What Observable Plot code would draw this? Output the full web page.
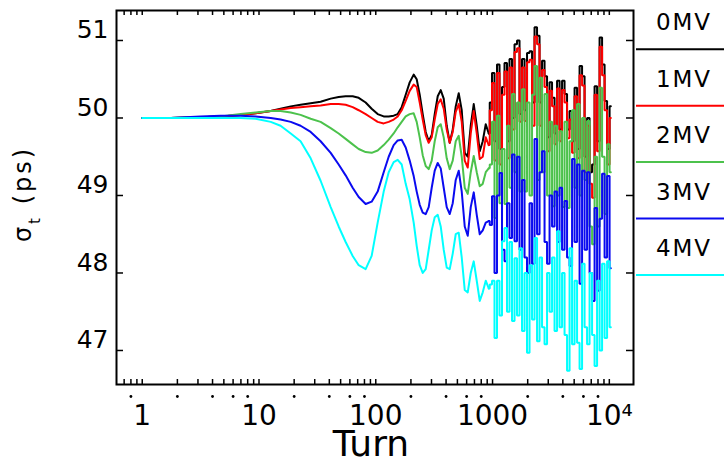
<!DOCTYPE html>
<html><head><meta charset="utf-8">
<script src="https://cdn.jsdelivr.net/npm/d3@7"></script>
<script src="https://cdn.jsdelivr.net/npm/@observablehq/plot@0.6"></script>
<style>
  html, body { margin: 0; padding: 0; background: #fff; }
  #chart { width: 724px; height: 466px; }
</style>
</head><body><div id="chart"></div>
<script>
// ---------- data ----------
const seriesNames = ["0MV", "1MV", "2MV", "3MV", "4MV"];
const seriesColors = ["#000000", "#ff0000", "#4cc24c", "#0a0af0", "#00ffff"];

const turns = [1,1.75,3.16,4.69,6.96,9.35,12.6,15.3,18.7,22.7,27.7,33.7,41.1,48.1,55.2,63.4,71.4,81.9,92.2,103.8,
  116.9,129,142.3,154.1,166.7,180.4,195.2,211.2,224.1,237.8,252.3,267.7,284,301.3,319.7,339.2,359.9,381.8,405.1,429.8,
  456,483.8,513.3,544.6,577.8,613.1,650.5,690.1,732.2,776.9,824.2,874.5,927.8,
  965,1014,1065,1119,1176,1235,1298,1363,1432,1505,1581,1661,1745,1833,1926,2023,2126,2233,2346,2465,
  2589,2720,2858,3002,3154,3313,3481,3657,3842,4036,4240,4455,4680,4917,5165,5427,5701,5989,6292,6610,
  6944,7296,7664,8052,8459,8887,9336,9808,10304];
// turn from which the oscillation becomes turn-by-turn noisy
const noisyFromTurn = 927.8;

const sigma0MV = [50.0,50.0,50.01,50.02,50.04,50.06,50.09,50.12,50.15,50.17,50.19,50.21,50.25,50.27,50.28,
  50.28,50.26,50.2,50.12,50.05,50.02,50.02,50.03,50.05,50.14,50.3,50.46,50.56,50.5,50.3,
  50.05,49.82,49.7,49.78,50.05,50.28,50.36,50.25,49.9,49.68,49.85,50.15,50.32,50.1,49.55,
  49.5,49.9,50.18,49.9,49.57,49.7,49.92,49.8,
  50.2,50.58,49.7,50.69,49.6,50.4,50.71,49.7,50.76,50.0,50.95,51.0,50.05,50.76,50.1,
  50.84,50.86,50.2,51.17,51.06,50.2,50.74,50.54,49.75,50.46,50.26,49.8,50.48,49.85,50.48,
  50.31,49.85,50.09,49.7,50.39,49.6,50.67,50.54,49.5,50.0,49.3,49.4,50.41,49.7,51.04,
  50.69,50.22,49.6,50.15];

const sigma1MV = [50.0,50.0,50.01,50.02,50.04,50.06,50.09,50.11,50.13,50.14,50.15,50.16,50.18,50.18,50.17,
  50.14,50.1,50.05,50.0,49.95,49.93,49.95,49.98,50.02,50.1,50.22,50.35,50.43,50.4,50.2,
  49.98,49.78,49.68,49.75,49.98,50.18,50.24,50.12,49.85,49.68,49.82,50.08,50.18,49.95,49.45,
  49.36,49.8,50.09,49.8,49.47,49.5,49.75,49.65,
  50.1,50.45,49.45,50.58,49.4,50.3,50.6,49.48,50.65,49.85,50.85,50.9,49.95,50.65,49.96,
  50.72,50.75,49.9,51.05,50.95,49.9,50.62,50.4,49.57,50.35,50.15,49.66,50.38,49.7,50.36,
  50.2,49.74,49.98,49.55,50.28,49.48,50.55,50.42,49.3,49.9,49.15,48.97,50.3,49.57,50.92,
  50.55,50.1,49.4,50.0];

const sigma2MV = [50.0,50.0,50.01,50.02,50.05,50.07,50.09,50.09,50.07,50.04,49.99,49.95,49.87,49.8,49.73,
  49.66,49.6,49.56,49.55,49.58,49.65,49.72,49.8,49.88,49.95,50.02,50.05,50.06,49.95,49.75,
  49.52,49.38,49.34,49.45,49.7,49.88,49.92,49.75,49.48,49.34,49.45,49.7,49.77,49.5,49.1,
  49.02,49.3,49.51,49.3,49.12,49.15,49.3,49.35,
  49.4,49.95,48.71,50.03,48.9,49.6,48.89,49.9,49.1,50.31,49.3,50.2,49.05,50.37,49.05,
  50.2,49.0,50.3,50.67,49.2,50.52,49.3,50.31,49.0,49.95,48.86,49.9,49.0,49.83,48.85,
  49.95,48.84,49.7,50.1,49.1,50.18,49.0,50.0,49.2,49.96,48.6,48.37,49.5,48.6,50.39,
  49.5,48.76,49.66,49.3];

const sigma3MV = [50.0,50.0,50.02,50.03,50.03,50.02,50.0,49.98,49.95,49.9,49.82,49.7,49.55,49.4,49.26,
  49.1,48.98,48.89,48.92,49.05,49.3,49.5,49.65,49.71,49.72,49.62,49.45,49.25,49.05,48.88,
  48.78,48.76,48.85,49.1,49.32,49.42,49.35,49.1,48.85,48.76,48.9,49.2,49.32,49.05,48.6,
  48.48,48.85,49.04,48.75,48.5,48.55,48.65,48.67,
  48.62,48.99,48.0,49.0,49.29,48.3,48.15,48.9,48.45,49.53,48.41,49.5,48.3,49.2,48.2,
  48.0,48.9,48.12,49.73,48.5,49.3,49.57,48.4,48.12,49.0,48.6,49.05,48.4,49.1,48.3,
  48.93,48.2,48.09,49.47,48.4,49.4,47.86,49.32,48.3,49.3,48.0,47.64,48.84,47.77,48.7,
  49.28,48.2,49.25,48.06];

const sigma4MV = [50.0,50.0,50.0,50.0,50.0,49.99,49.95,49.9,49.8,49.7,49.48,49.19,48.85,48.6,48.4,
  48.22,48.1,48.05,48.22,48.65,49.05,49.3,49.43,49.46,49.4,49.15,48.95,48.65,48.35,48.1,
  48.0,48.05,48.3,48.55,48.72,48.75,48.6,48.3,48.07,48.05,48.25,48.5,48.52,48.2,47.78,
  47.75,48.0,48.15,47.9,47.64,47.75,47.9,47.8,
  47.85,47.9,47.16,47.9,47.45,48.41,48.58,47.5,48.4,47.38,48.19,47.45,48.32,47.25,48.0,
  46.97,48.1,47.4,48.45,47.12,48.2,47.3,47.08,48.0,47.5,48.2,47.25,48.54,47.3,48.0,
  47.2,46.74,48.32,47.08,47.9,47.1,46.76,48.12,47.3,47.08,48.0,47.2,46.8,47.9,47.0,
  48.12,47.16,48.15,47.3];

const yTicks = [47, 48, 49, 50, 51];
const xTicks = [0.7,0.8,0.9,1,2,3,4,5,6,7,8,9,10,20,30,40,50,60,70,80,90,
  100,200,300,400,500,600,700,800,900,1000,2000,3000,4000,5000,6000,7000,8000,9000,10000];
const xLabelTurns = [1, 10, 100, 1000, 10000];
const xLabelTexts = ["1", "10", "100", "1000", "10\u2074"];
const xMinorLabelTurns = [0.8,2,4,6,8,20,40,60,80,200,400,600,800,2000,4000,6000,8000];

// ---------- build ----------
const seriesValues = [sigma0MV, sigma1MV, sigma2MV, sigma3MV, sigma4MV];
const rows = seriesNames.flatMap((name, i) =>
  turns.map((t, j) => ({turn: t, sigma: seriesValues[i][j], series: name})));
const smoothRows = rows.filter(r => r.turn <= noisyFromTurn);
const noisyRows = rows.filter(r => r.turn >= noisyFromTurn);

const W = 724, H = 466;
const mL = 116, mR = 91, mT = 10, mB = 82;
const plotW = W - mL - mR, plotH = H - mT - mB;

const lineOpts = {x: "turn", y: "sigma", z: "series", stroke: "series", strokeWidth: 2};

const svg = Plot.plot({
  width: W, height: H,
  marginLeft: mL, marginRight: mR, marginTop: mT, marginBottom: mB,
  style: {fontFamily: "DejaVu Sans", background: "#ffffff", color: "#000000", fontSize: "25px"},
  x: {type: "log", domain: [0.602, 16110], axis: null},
  y: {domain: [46.561, 51.387], axis: null},
  color: {domain: seriesNames, range: seriesColors},
  marks: [
    Plot.line(smoothRows, {...lineOpts, curve: "linear"}),
    Plot.line(noisyRows, {...lineOpts, curve: "step", strokeLinejoin: "miter"}),
    Plot.frame({stroke: "#000", strokeWidth: 2}),
    // y ticks, left and right, pointing inward
    Plot.tickY(yTicks, {y: d => d, insetRight: plotW - 7, stroke: "#000", strokeWidth: 1.5}),
    Plot.tickY(yTicks, {y: d => d, insetLeft: plotW - 7, stroke: "#000", strokeWidth: 1.5}),
    // x ticks, bottom and top, pointing inward
    Plot.tickX(xTicks, {x: d => d, insetTop: plotH - 5, stroke: "#000", strokeWidth: 1.5}),
    Plot.tickX(xTicks, {x: d => d, insetBottom: plotH - 5, stroke: "#000", strokeWidth: 1.5}),
    // y tick labels
    Plot.text(yTicks, {y: d => d, text: d => String(d), frameAnchor: "left", textAnchor: "end",
      dx: -8, dy: -10, fontSize: 25}),
    // x tick labels
    Plot.text(xLabelTurns, {x: d => d, text: (d, i) => xLabelTexts[i], frameAnchor: "bottom",
      dy: 40, fontSize: 28}),
    // tiny minor labels under the ticks
    Plot.dot(xMinorLabelTurns, {x: d => d, frameAnchor: "bottom", dy: 12, r: 1.4, fill: "#000", stroke: null}),
    // x axis title
    Plot.text(["Turn"], {text: d => d, frameAnchor: "bottom", dx: -4, dy: 71, fontSize: 36})
  ]
});

document.getElementById("chart").appendChild(svg);

// y axis title with subscript
const root = d3.select(svg);
const yt = root.append("text")
  .attr("transform", "translate(31,194) rotate(-90)")
  .attr("text-anchor", "middle")
  .attr("font-family", "DejaVu Sans")
  .attr("font-size", 24)
  .attr("letter-spacing", 3)
  .attr("fill", "#000");
yt.append("tspan").text("\u03C3");
yt.append("tspan").attr("font-size", 15).attr("baseline-shift", "sub").text("t");
yt.append("tspan").text(" (ps)");

// legend at the right
const lg = root.append("g");
seriesNames.forEach((name, i) => {
  const ly = 49.3 + 56.4 * i;
  lg.append("line").attr("x1", 636).attr("x2", 724).attr("y1", ly).attr("y2", ly)
    .attr("stroke", seriesColors[i]).attr("stroke-width", 2);
  lg.append("text").attr("x", 684).attr("y", ly - 27)
    .attr("text-anchor", "middle").attr("dominant-baseline", "central")
    .attr("font-family", "DejaVu Sans").attr("font-size", 23).attr("letter-spacing", 2)
    .attr("fill", "#000").text(name);
});
</script></body></html>
